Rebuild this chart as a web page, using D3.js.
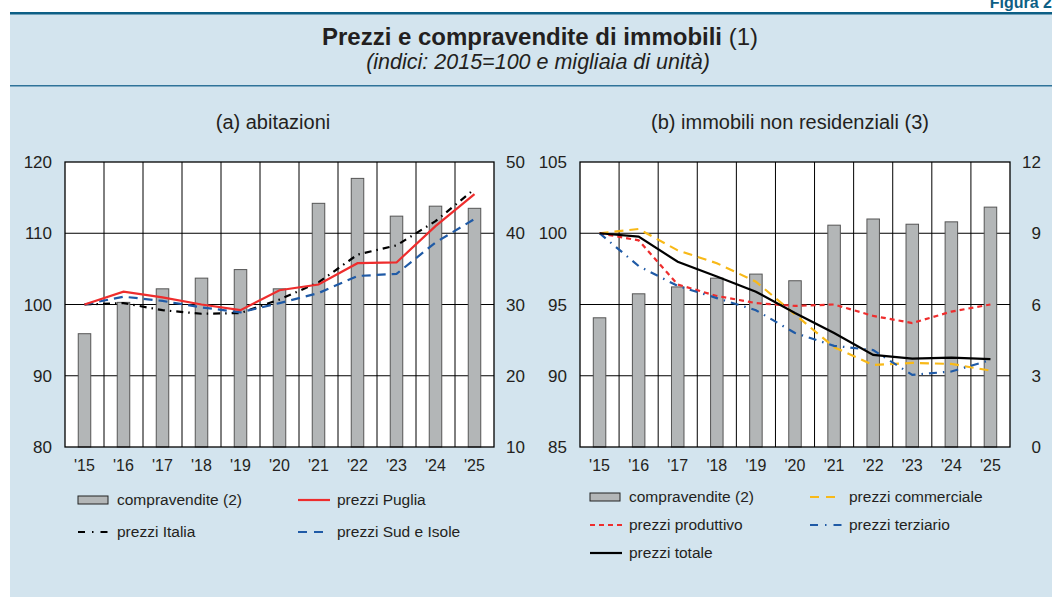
<!DOCTYPE html>
<meta charset="utf-8">
<script src="https://d3js.org/d3.v7.min.js"></script>
<style>
body { margin: 0; background: #fff; font-family: "Liberation Sans", Arial, sans-serif; }
svg text { fill: #231f20; }
</style>
<body>
<svg id="chart" width="1052" height="597"></svg>
<script>
// ---- data ----
var years = ["'15", "'16", "'17", "'18", "'19", "'20", "'21", "'22", "'23", "'24", "'25"];

// (a) abitazioni
var compravenditeA = [25.9, 30.3, 32.2, 33.7, 34.9, 32.2, 44.2, 47.7, 42.4, 43.8, 43.5];
var prezziPuglia   = [100, 101.8, 101.0, 100.0, 99.2, 102.0, 102.8, 105.8, 105.9, 111.0, 115.5];
var prezziItalia   = [100, 100.2, 99.2, 98.7, 98.8, 100.7, 103.1, 107.0, 108.3, 111.7, 116.2];
var prezziSud      = [100, 101.1, 100.5, 99.6, 98.9, 100.2, 101.6, 104.0, 104.3, 108.7, 112.0];

// (b) immobili non residenziali
var compravenditeB = [5.44, 6.45, 6.74, 7.11, 7.28, 7.0, 9.34, 9.6, 9.38, 9.48, 10.1];
var prezziTotale      = [100, 99.76, 98.0, 96.96, 95.9, 94.4, 93.0, 91.46, 91.2, 91.27, 91.16];
var prezziCommerciale = [100, 100.3, 98.8, 97.9, 96.6, 94.3, 92.0, 90.76, 90.9, 90.83, 90.36];
var prezziProduttivo  = [100, 99.5, 96.4, 95.6, 95.1, 94.9, 95.0, 94.2, 93.7, 94.5, 95.0];
var prezziTerziario   = [100, 97.7, 96.3, 95.45, 94.6, 93.0, 92.1, 91.8, 90.06, 90.3, 91.1];

var ticksLeftA = [80, 90, 100, 110, 120];
var ticksRightA = [10, 20, 30, 40, 50];
var ticksLeftB = [85, 90, 95, 100, 105];
var ticksRightB = [0, 3, 6, 9, 12];

var svg = d3.select("#chart");

// background panel
svg.append("rect").attr("x", 10).attr("y", 13).attr("width", 1042).attr("height", 584).attr("fill", "#d3e4ee");
svg.append("rect").attr("x", 10).attr("y", 12).attr("width", 1042).attr("height", 2.5).attr("fill", "#0d5f85");
svg.append("rect").attr("x", 10).attr("y", 85).attr("width", 1042).attr("height", 1.5).attr("fill", "#2f7399");

svg.append("text").attr("x", 1052).attr("y", 8).attr("text-anchor", "end")
  .style("font-size", "16px").style("font-weight", "bold").style("fill", "#0d5f85").text("Figura 2");

var title = svg.append("text").attr("x", 540).attr("y", 45).attr("text-anchor", "middle").style("font-size", "24px");
title.append("tspan").style("font-weight", "bold").text("Prezzi e compravendite di immobili");
title.append("tspan").text(" (1)");
svg.append("text").attr("x", 538).attr("y", 69).attr("text-anchor", "middle")
  .style("font-size", "21.5px").style("font-style", "italic").text("(indici: 2015=100 e migliaia di unità)");

function panel(opt) {
  var g = svg.append("g");
  var x = d3.scaleBand().domain(years).range([opt.left, opt.right]);
  var yL = d3.scaleLinear().domain(opt.leftDomain).range([447, 162]);
  var yR = d3.scaleLinear().domain(opt.rightDomain).range([447, 162]);

  g.append("text").attr("x", opt.titleX).attr("y", 129).attr("text-anchor", "middle")
    .style("font-size", "20px").text(opt.title);

  g.append("rect").attr("x", opt.left).attr("y", 162).attr("width", opt.right - opt.left).attr("height", 285).attr("fill", "#fff");

  // horizontal grid
  g.selectAll(".hg").data(opt.ticksLeft.slice(1, -1)).enter().append("line")
    .attr("x1", opt.left).attr("x2", opt.right)
    .attr("y1", d => yL(d)).attr("y2", d => yL(d))
    .attr("stroke", "#000").attr("stroke-width", 1);
  // vertical grid at band boundaries
  g.selectAll(".vg").data(years.slice(1)).enter().append("line")
    .attr("x1", d => x(d)).attr("x2", d => x(d))
    .attr("y1", 162).attr("y2", 447)
    .attr("stroke", "#000").attr("stroke-width", 1);

  // bars
  var bw = 12.5;
  g.selectAll(".bar").data(opt.bars).enter().append("rect")
    .attr("x", (d, i) => x(years[i]) + x.bandwidth() / 2 - bw / 2)
    .attr("y", d => yR(d))
    .attr("width", bw)
    .attr("height", d => 447 - yR(d))
    .attr("fill", "#b3b6b7").attr("stroke", "#555").attr("stroke-width", 1);

  // lines
  opt.lines.forEach(function(s) {
    var line = d3.line().x((d, i) => x(years[i]) + x.bandwidth() / 2).y(d => yL(d));
    g.append("path").datum(s.values).attr("d", line)
      .attr("fill", "none").attr("stroke", s.color).attr("stroke-width", s.width || 2.2)
      .attr("stroke-dasharray", s.dash || null);
  });

  // frame
  g.append("rect").attr("x", opt.left).attr("y", 162).attr("width", opt.right - opt.left).attr("height", 285)
    .attr("fill", "none").attr("stroke", "#000").attr("stroke-width", 1.3);

  // axes labels
  g.selectAll(".yl").data(opt.ticksLeft).enter().append("text")
    .attr("x", opt.left - 13).attr("y", d => yL(d) + 6).attr("text-anchor", "end")
    .style("font-size", "17px").text(d => d);
  g.selectAll(".yr").data(opt.ticksRight).enter().append("text")
    .attr("x", opt.right + 31).attr("y", d => yR(d) + 6).attr("text-anchor", "end")
    .style("font-size", "17px").text(d => d);
  g.selectAll(".xl").data(years).enter().append("text")
    .attr("x", d => x(d) + x.bandwidth() / 2).attr("y", 471).attr("text-anchor", "middle")
    .style("font-size", "16px").text(d => d);

  // legend
  opt.legend.forEach(function(l) {
    if (l.bar) {
      g.append("rect").attr("x", l.x).attr("y", l.y - 4).attr("width", 30).attr("height", 8)
        .attr("fill", "#b3b6b7").attr("stroke", "#222").attr("stroke-width", 1);
    } else {
      g.append("line").attr("x1", l.x).attr("x2", l.x + 32).attr("y1", l.y).attr("y2", l.y)
        .attr("stroke", l.color).attr("stroke-width", l.width || 2.2).attr("stroke-dasharray", l.dash || null);
    }
    g.append("text").attr("x", l.x + 39).attr("y", l.y + 5).style("font-size", "15.5px").text(l.label);
  });
}

panel({
  title: "(a) abitazioni", titleX: 273,
  left: 65, right: 494,
  leftDomain: [80, 120], rightDomain: [10, 50],
  ticksLeft: ticksLeftA, ticksRight: ticksRightA,
  bars: compravenditeA,
  lines: [
    { values: prezziItalia, color: "#000", dash: "7,5,1.5,5" },
    { values: prezziSud, color: "#1f5aa6", dash: "9,6" },
    { values: prezziPuglia, color: "#ee2d2d" }
  ],
  legend: [
    { bar: true, x: 78, y: 500, label: "compravendite (2)" },
    { x: 298, y: 500, color: "#ee2d2d", label: "prezzi Puglia" },
    { x: 78, y: 532, color: "#000", dash: "7,7,1.5,7", label: "prezzi Italia" },
    { x: 298, y: 532, color: "#1f5aa6", dash: "9,7", label: "prezzi Sud e Isole" }
  ]
});

panel({
  title: "(b) immobili non residenziali (3)", titleX: 790,
  left: 580, right: 1010,
  leftDomain: [85, 105], rightDomain: [0, 12],
  ticksLeft: ticksLeftB, ticksRight: ticksRightB,
  bars: compravenditeB,
  lines: [
    { values: prezziCommerciale, color: "#f8b918", dash: "9,6" },
    { values: prezziProduttivo, color: "#ee2d2d", dash: "5,4" },
    { values: prezziTerziario, color: "#1f5aa6", dash: "8,6,1.5,6" },
    { values: prezziTotale, color: "#000" }
  ],
  legend: [
    { bar: true, x: 590, y: 497, label: "compravendite (2)" },
    { x: 810, y: 497, color: "#f8b918", dash: "9,7", label: "prezzi commerciale" },
    { x: 590, y: 525, color: "#ee2d2d", dash: "5,4", label: "prezzi produttivo" },
    { x: 810, y: 525, color: "#1f5aa6", dash: "8,7,1.5,7", label: "prezzi terziario" },
    { x: 590, y: 553, color: "#000", label: "prezzi totale" }
  ]
});
</script>
</body>
